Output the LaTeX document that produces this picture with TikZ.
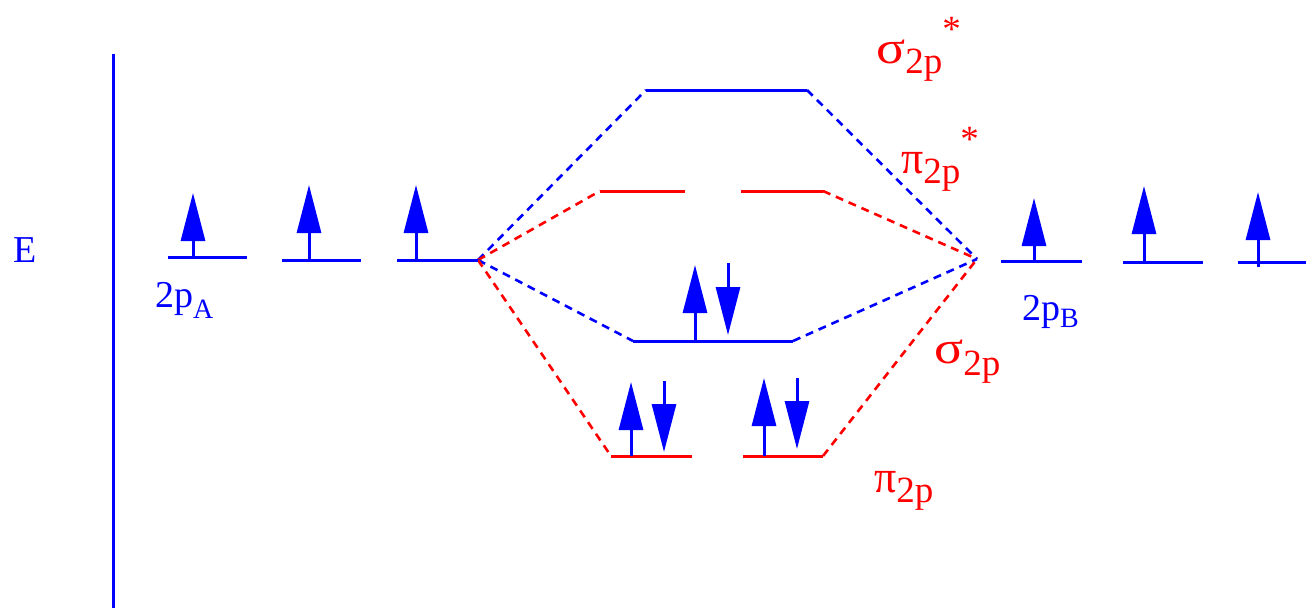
\documentclass[tikz,border=0pt]{standalone}
\usepackage{fontspec}
\setmainfont{Liberation Serif}
\usetikzlibrary{arrows.meta}

\newcommand{\subsz}{\fontsize{37}{39}\selectfont}
\newcommand{\grsz}{\fontsize{40}{42}\selectfont}
\newcommand{\sig}{{\grsz\scalebox{1.35}[1.15]{σ}}}
\newcommand{\pii}{{\grsz\scalebox{1.1}[1.15]{π}}}

\begin{document}
\begin{tikzpicture}[x=1pt, y=-1pt,
        level/.style = {line width=3pt},
        link/.style  = {line width=2.6pt, dash pattern=on 8pt off 6pt},
        spin/.style  = {line width=3pt, -{Triangle[length=48pt, width=24pt]}},
        txt/.style   = {inner sep=0pt, anchor=base west, font=\fontsize{38}{40}\selectfont},
    ]
        \useasboundingbox (0,0) rectangle (1306,608);

        % energy axis
        \coordinate (axtop) at (113,54);
        \coordinate (axbot) at (113,608);
        \draw[blue, line width=3pt] (axtop) -- (axbot);
        \node[txt, text=blue] (elbl) at (13,262) {E};

        % atomic levels
        \coordinate (a1l) at (168,257); \coordinate (a1r) at (247,257);
        \coordinate (a2l) at (282,260); \coordinate (a2r) at (361,260);
        \coordinate (a3l) at (397,260); \coordinate (jA)  at (478,260);
        \coordinate (jB)  at (977,259); \coordinate (b1r) at (1082,261);
        \coordinate (b1l) at (1001,261);
        \coordinate (b2l) at (1123,262); \coordinate (b2r) at (1203,262);
        \coordinate (b3l) at (1238,262); \coordinate (b3r) at (1306,262);

        % molecular levels
        \coordinate (ssl) at (646,90);  \coordinate (ssr) at (807,90);
        \coordinate (ps1l) at (600,191); \coordinate (ps1r) at (685,191);
        \coordinate (ps2l) at (741,191); \coordinate (ps2r) at (823,191);
        \coordinate (sl) at (633,341);  \coordinate (sr) at (793,341);
        \coordinate (p1l) at (611,456); \coordinate (p1r) at (692,456);
        \coordinate (p2l) at (743,456); \coordinate (p2r) at (823,456);

        % correlation lines
        \draw[link, blue] (jA) -- (ssl);
        \draw[link, blue] (ssr) -- (jB);
        \draw[link, red] (jA) -- (ps1l);
        \draw[link, red] (ps2r) -- (jB);
        \draw[link, blue] (jA) -- (sl);
        \draw[link, blue] (sr) -- (jB);
        \draw[link, red] (jA) -- (p1l);
        \draw[link, red] (p2r) -- (jB);

        \draw[level, blue] (a1l) -- (a1r);
        \draw[level, blue] (a2l) -- (a2r);
        \draw[level, blue] (a3l) -- (jA);
        \draw[level, blue] (b1l) -- (b1r);
        \draw[level, blue] (b2l) -- (b2r);
        \draw[level, blue] (b3l) -- (b3r);
        \draw[level, blue] (ssl) -- (ssr);
        \draw[level, red] (ps1l) -- (ps1r);
        \draw[level, red] (ps2l) -- (ps2r);
        \draw[level, blue] (sl) -- (sr);
        \draw[level, red] (p1l) -- (p1r);
        \draw[level, red] (p2l) -- (p2r);

        % electrons
        \draw[spin, blue] (193,257) -- (193,193);
        \draw[spin, blue] (309,260) -- (309,185);
        \draw[spin, blue] (416,260) -- (416,185);
        \draw[spin, blue] (1034,261) -- (1034,198);
        \draw[spin, blue] (1144,262) -- (1144,186);
        \draw[spin, blue] (1258,267) -- (1258,192);
        \draw[spin, blue] (695,341) -- (695,265);
        \draw[spin, blue] (728,263) -- (728,335);
        \draw[spin, blue] (631,456) -- (631,382);
        \draw[spin, blue] (664,381) -- (664,452);
        \draw[spin, blue] (764,456) -- (764,378);
        \draw[spin, blue] (797,378) -- (797,449);

        % labels
        \node[txt, text=blue] (lblA) at (155,307) {2p\raisebox{-11pt}{\fontsize{28}{30}\selectfont A}};
        \node[txt, text=blue] (lblB) at (1022,320) {2p\raisebox{-7pt}{\fontsize{28}{30}\selectfont B}};
        \node[txt, text=red] (lblss) at (876,63) {\sig\raisebox{-10pt}{\subsz 2p}\raisebox{22pt}{\subsz *}};
        \node[txt, text=red] (lblps) at (901,173) {\pii\raisebox{-10pt}{\subsz 2p}\raisebox{22pt}{\subsz *}};
        \node[txt, text=red] (lbls) at (934,363) {\sig\raisebox{-12pt}{\subsz 2p}};
        \node[txt, text=red] (lblp) at (874,492) {\pii\raisebox{-10pt}{\subsz 2p}};
    \end{tikzpicture}
\end{document}
